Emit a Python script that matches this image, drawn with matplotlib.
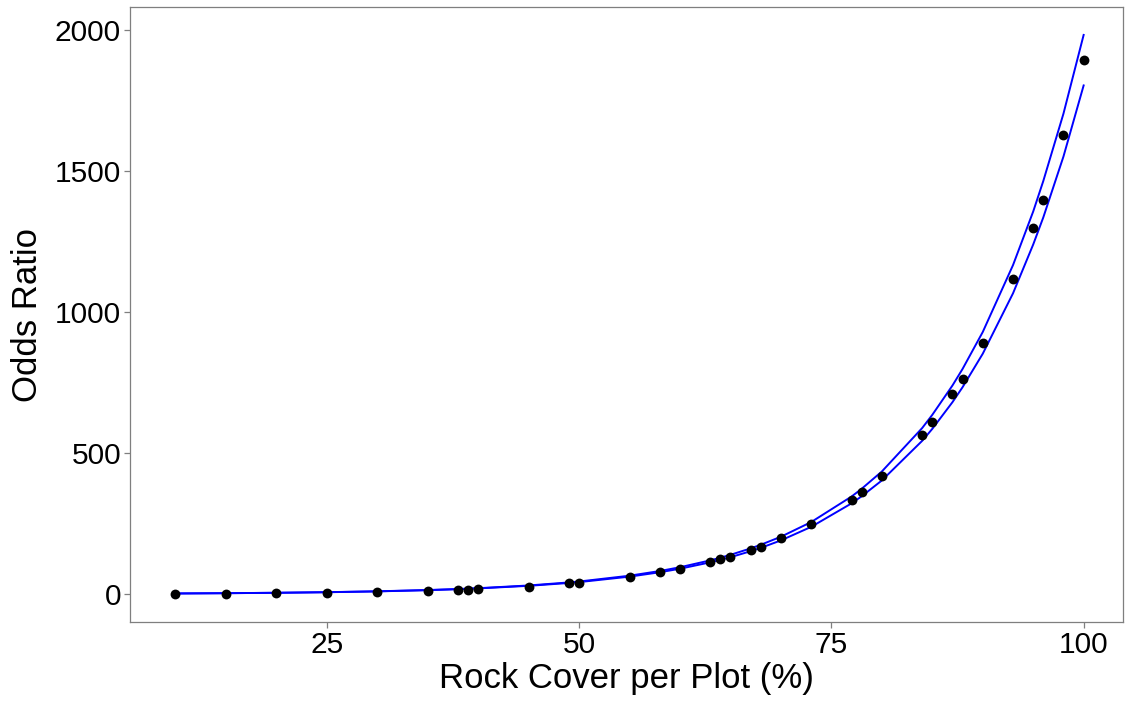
import matplotlib
matplotlib.use("Agg")
import matplotlib.pyplot as plt

plt.rcParams['font.family'] = ['Liberation Sans', 'DejaVu Sans']

rock_cover = [10, 15, 20, 25, 30, 35, 38, 39, 40, 45, 49, 50, 55, 58, 60, 63, 64, 65,
              67, 68, 70, 73, 77, 78, 80, 84, 85, 87, 88, 90, 93, 95, 96, 98, 100]
odds_obs = [1, 2, 3, 4, 6, 11, 15, 16, 17, 26, 38, 40, 60, 77, 90, 114, 123, 133,
            156, 168, 197, 247, 335, 362, 420, 565, 610, 708, 764, 890, 1116, 1296, 1398, 1626, 1892]
odds_upper = [2.1, 3.1, 4.6, 6.7, 9.8, 14.3, 17.9, 19.3, 20.8, 30.5, 41.3, 44.5, 65.1, 81.7,
              95.1, 119.5, 128.9, 139.1, 161.9, 174.7, 203.2, 255.2, 345.7, 373.1, 434.4,
              588.5, 635.2, 739.3, 797.9, 928.8, 1166, 1356, 1464, 1703, 1982]
odds_lower = [2.1, 3.1, 4.5, 6.5, 9.5, 13.8, 17.3, 18.6, 20.1, 29.2, 39.4, 42.4, 61.8, 77.3,
              89.8, 112.5, 121.3, 130.7, 151.9, 163.7, 190.2, 238.2, 321.5, 346.6, 402.6,
              543.2, 585.5, 680.2, 733.2, 851.8, 1066, 1239, 1335, 1551, 1803]

x_ticks = [25, 50, 75, 100]
y_ticks = [0, 500, 1000, 1500, 2000]

fig = plt.figure(figsize=(11.25, 7.07), dpi=100)
ax = fig.add_axes([130/1125, 85/707, 993/1125, 615/707])

ax.plot(rock_cover, odds_upper, color='#0000ff', lw=1.4, zorder=2)
ax.plot(rock_cover, odds_lower, color='#0000ff', lw=1.4, zorder=2)
ax.scatter(rock_cover, odds_obs, s=50, color='black', zorder=3, linewidths=0)

ax.set_xlim(5.5, 103.9)
ax.set_ylim(-99, 2081)
ax.set_xticks(x_ticks)
ax.set_yticks(y_ticks)
ax.set_xticklabels([str(v) for v in x_ticks])
ax.set_yticklabels([str(v) for v in y_ticks])

for s in ax.spines.values():
    s.set_color('#7f7f7f')
    s.set_linewidth(0.9)

ax.tick_params(axis='both', colors='#7f7f7f', length=4, width=0.9, labelsize=21.5,
               labelcolor='black', pad=2.5)

ax.set_xlabel('Rock Cover per Plot (%)', fontsize=25, labelpad=2)
ax.set_ylabel('Odds Ratio', fontsize=25, labelpad=8)

fig.savefig('out.png', dpi=100, facecolor='white')
